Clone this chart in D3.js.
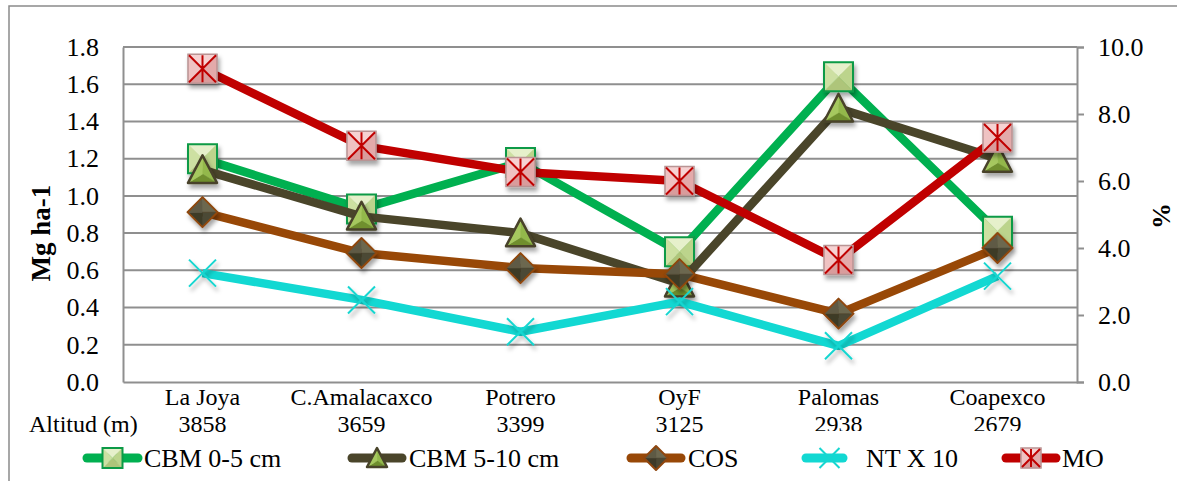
<!DOCTYPE html>
<html>
<head>
<meta charset="utf-8">
<script src="https://cdn.jsdelivr.net/npm/d3@7"></script>
<style>
  body { margin: 0; background: #fff; }
  svg { display: block; }
  text { font-family: "Liberation Serif", "Times New Roman", serif; fill: #000; }
</style>
</head>
<body>
<svg id="chart" width="1177" height="481"></svg>
<script>
// Sampling sites and their altitude (m)
const sites = ["La Joya", "C.Amalacaxco", "Potrero", "OyF", "Palomas", "Coapexco"];
const altitudes = ["3858", "3659", "3399", "3125", "2938", "2679"];

// Microbial biomass carbon, Mg ha-1 (left axis)
const cbm05 = [1.20, 0.93, 1.18, 0.70, 1.64, 0.81];
const cbm510 = [1.14, 0.89, 0.80, 0.53, 1.47, 1.20];

// Percent values (right axis)
const cos = [5.07, 3.85, 3.40, 3.22, 2.04, 4.00];
const nt10 = [3.25, 2.45, 1.50, 2.40, 1.08, 3.16];
const mo = [9.35, 7.05, 6.27, 6.00, 3.64, 7.30];

// Axis ticks
const leftTicks = [0, 0.2, 0.4, 0.6, 0.8, 1.0, 1.2, 1.4, 1.6, 1.8];
const rightTicks = [0, 2, 4, 6, 8, 10];

const seriesNames = ["CBM 0-5 cm", "CBM 5-10 cm", "COS", "NT X 10", "MO"];

const svg = d3.select("#chart");
const W = 1177, H = 481;
const plot = { left: 123, right: 1077, top: 47, bottom: 382 };

const defs = svg.append("defs");
const shadow = defs.append("filter").attr("id", "shadow")
  .attr("x", "-50%").attr("y", "-50%").attr("width", "200%").attr("height", "200%");
shadow.append("feDropShadow").attr("dx", 2).attr("dy", 4).attr("stdDeviation", 2)
  .attr("flood-color", "#000").attr("flood-opacity", 0.35);

// Outer chart frame
svg.append("rect").attr("x", 9).attr("y", 6).attr("width", W).attr("height", H)
  .attr("fill", "#fff").attr("stroke", "#8a8a8a").attr("stroke-width", 1.5);

const x = d3.scaleBand().domain(sites).range([plot.left, plot.right]).padding(0);
const cx = s => x(s) + x.bandwidth() / 2;
const yL = d3.scaleLinear().domain([0, 1.8]).range([plot.bottom, plot.top]);
const yR = d3.scaleLinear().domain([0, 10]).range([plot.bottom, plot.top]);

const gridColor = "#8f8f8f";

// Horizontal gridlines
svg.append("g").selectAll("line").data(leftTicks.filter(t => t > 0)).join("line")
  .attr("x1", plot.left).attr("x2", plot.right)
  .attr("y1", d => yL(d)).attr("y2", d => yL(d))
  .attr("stroke", gridColor).attr("stroke-width", 2);

// Left axis
const gL = svg.append("g").attr("transform", `translate(${plot.left},0)`)
  .call(d3.axisLeft(yL).tickValues(leftTicks).tickFormat(d3.format(".1f")).tickSize(0).tickPadding(24));
gL.select(".domain").attr("stroke", gridColor).attr("stroke-width", 2);
gL.selectAll("text").attr("font-size", 26).attr("font-family", "Liberation Serif").attr("fill", "#000");

// Right axis
const gR = svg.append("g").attr("transform", `translate(${plot.right},0)`)
  .call(d3.axisRight(yR).tickValues(rightTicks).tickFormat(d3.format(".1f")).tickSize(7).tickPadding(14));
gR.select(".domain").attr("stroke", gridColor).attr("stroke-width", 2);
gR.selectAll(".tick line").attr("stroke", gridColor).attr("stroke-width", 2);
gR.selectAll("text").attr("font-size", 26).attr("font-family", "Liberation Serif").attr("fill", "#000");

// Bottom axis with two-line category labels
const gB = svg.append("g").attr("transform", `translate(0,${plot.bottom})`)
  .call(d3.axisBottom(x).tickSize(0).tickFormat(""));
gB.select(".domain").attr("stroke", gridColor).attr("stroke-width", 2);
gB.selectAll(".tick").each(function (d, i) {
  const t = d3.select(this);
  t.append("text").attr("y", 23).attr("text-anchor", "middle").attr("font-size", 24)
    .attr("font-family", "Liberation Serif").attr("fill", "#000").text(d);
  t.append("text").attr("y", 50).attr("text-anchor", "middle").attr("font-size", 24)
    .attr("font-family", "Liberation Serif").attr("fill", "#000").text(altitudes[i]);
});
svg.append("text").attr("x", 29).attr("y", 432).attr("font-size", 24).text("Altitud (m)");

// Axis titles
svg.append("text").attr("transform", "translate(50,233) rotate(-90)")
  .attr("text-anchor", "middle").attr("font-size", 27).attr("font-weight", "bold").text("Mg ha-1");
svg.append("text").attr("transform", "translate(1170,216) rotate(-90)")
  .attr("text-anchor", "middle").attr("font-size", 26).attr("font-weight", "bold").text("%");

// Faceted marker drawing
function facets(g, pts, center, shades) {
  for (let i = 0; i < pts.length; i++) {
    const a = pts[i], b = pts[(i + 1) % pts.length];
    g.append("path").attr("d", `M${a[0]},${a[1]}L${b[0]},${b[1]}L${center[0]},${center[1]}Z`)
      .attr("fill", shades[i]).attr("stroke", shades[i]).attr("stroke-width", 0.5);
  }
  g.append("path").attr("d", "M" + pts.map(p => p.join(",")).join("L") + "Z");
}

function marker(g, type, s) {
  const h = s / 2;
  if (type === "square") {
    const pts = [[-h, -h], [h, -h], [h, h], [-h, h]];
    facets(g, pts, [0, 0], ["#e6f0cb", "#bcd48c", "#aec57a", "#cde0a2"]);
    g.select("path:last-child").attr("fill", "none").attr("stroke", "#0c9a46").attr("stroke-width", 2);
  } else if (type === "triangle") {
    const pts = [[0, -h], [h, h * 0.9], [-h, h * 0.9]];
    facets(g, pts, [0, h * 0.3], ["#93b84c", "#6f8f2e", "#a6c85f"]);
    g.select("path:last-child").attr("fill", "none").attr("stroke", "#48432a").attr("stroke-width", 2.5)
      .attr("stroke-linejoin", "round");
  } else if (type === "diamond") {
    const pts = [[0, -h], [h, 0], [0, h], [-h, 0]];
    facets(g, pts, [0, 0], ["#6c6850", "#4c4834", "#3e3a28", "#5e5a44"]);
    g.select("path:last-child").attr("fill", "none").attr("stroke", "#8f4710").attr("stroke-width", 2)
      .attr("stroke-linejoin", "round");
  } else if (type === "star") {
    const pts = [[-h, -h], [h, -h], [h, h], [-h, h]];
    facets(g, pts, [0, 0], ["#f6d2d2", "#e3aaaa", "#d99c9c", "#efc2c2"]);
    g.select("path:last-child").attr("fill", "none").attr("stroke", "#b99494").attr("stroke-width", 1.5);
    const k = h - 1;
    g.append("path").attr("d", `M${-k},${-k}L${k},${k}M${k},${-k}L${-k},${k}M0,${-k}L0,${k}`)
      .attr("stroke", "#c00000").attr("stroke-width", 2).attr("fill", "none");
  } else if (type === "x") {
    const k = h;
    g.append("path").attr("d", `M${-k},${-k}L${k},${k}M${k},${-k}L${-k},${k}`)
      .attr("stroke", "#16d6d0").attr("stroke-width", 2).attr("fill", "none");
  }
}

const series = [
  { name: seriesNames[0], values: cbm05, y: yL, color: "#00b050", marker: "square", size: 29 },
  { name: seriesNames[1], values: cbm510, y: yL, color: "#4a452a", marker: "triangle", size: 29 },
  { name: seriesNames[2], values: cos, y: yR, color: "#984807", marker: "diamond", size: 30 },
  { name: seriesNames[3], values: nt10, y: yR, color: "#12d8d2", marker: "x", size: 27 },
  { name: seriesNames[4], values: mo, y: yR, color: "#c00000", marker: "star", size: 29 }
];

const line = d3.line();
series.forEach(s => {
  const pts = s.values.map((v, i) => [cx(sites[i]), s.y(v)]);
  const g = svg.append("g");
  g.append("path").attr("d", line(pts)).attr("fill", "none")
    .attr("stroke", s.color).attr("stroke-width", 8.5).attr("stroke-linejoin", "round");
  pts.forEach(p => {
    const m = g.append("g").attr("transform", `translate(${p[0]},${p[1]})`).attr("filter", "url(#shadow)");
    marker(m, s.marker, s.size);
  });
});

// Legend
svg.append("rect").attr("x", 770).attr("y", 431).attr("width", 400).attr("height", 50).attr("fill", "#fff");
const legendItems = [
  { x0: 83, x1: 142, tx: 144 },
  { x0: 348, x1: 406, tx: 409 },
  { x0: 627, x1: 685, tx: 688 },
  { x0: 802, x1: 847, tx: 866 },
  { x0: 1002, x1: 1060, tx: 1062 }
];
const ly = 458;
series.forEach((s, i) => {
  const it = legendItems[i];
  const g = svg.append("g");
  g.append("line").attr("x1", it.x0 + 4).attr("x2", it.x1 - 4).attr("y1", ly).attr("y2", ly)
    .attr("stroke", s.color).attr("stroke-width", 9).attr("stroke-linecap", "round");
  const m = g.append("g").attr("transform", `translate(${(it.x0 + it.x1) / 2 + (s.marker === "x" ? 5 : 0)},${ly})`);
  marker(m, s.marker, s.marker === "diamond" ? 24 : 20);
  g.append("text").attr("x", it.tx).attr("y", 467).attr("font-size", 26).text(s.name);
});
</script>
</body>
</html>
